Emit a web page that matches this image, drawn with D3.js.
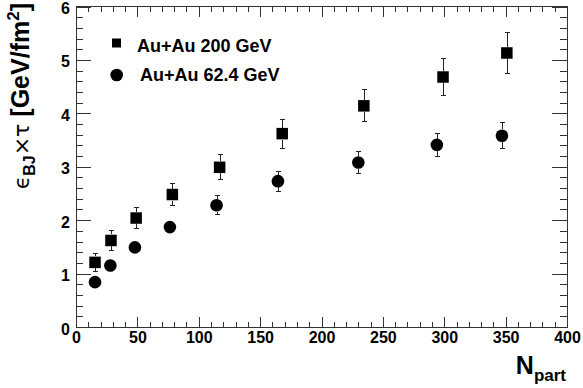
<!DOCTYPE html>
<html lang="en">
<head>
<meta charset="UTF-8" />
<title>Bjorken energy density vs Npart</title>
<script src="https://cdn.jsdelivr.net/npm/d3@7"></script>
<style>
body{margin:0;background:#fff}
svg{display:block;background:#fff;font-family:"Liberation Sans",Helvetica,Arial,sans-serif}
.axis path{display:none}
.axis line{stroke:#333;shape-rendering:crispEdges}
.axis text{font-size:16px;font-weight:bold;fill:#000;font-family:"Liberation Sans",Helvetica,Arial,sans-serif}
</style>
</head>
<body>
<svg id="chart" width="583" height="388"></svg>
<script>
/* ===== data ===== */
const npart200=[15.5,28.5,49,78.5,117,168,234.5,299,351];
const eps200  =[1.21,1.62,2.04,2.48,2.99,3.62,4.14,4.68,5.13];
const err200  =[0.165,0.18,0.19,0.2,0.23,0.27,0.30,0.34,0.375];
const npart62 =[15.5,28,48,76.5,114.5,164.5,230,294,347];
const eps62   =[0.84,1.15,1.49,1.87,2.28,2.73,3.08,3.41,3.58];
const err62   =[0.07,0.08,0.09,0.1,0.18,0.19,0.21,0.22,0.245];
const xMajor=[0,50,100,150,200,250,300,350,400];
const yMajor=[0,1,2,3,4,5,6];
const legendLabels=['Au+Au 200 GeV','Au+Au 62.4 GeV'];

const svg=d3.select('#chart');
const L=76,R=567,T=6.5,B=327;
const x=d3.scaleLinear().domain([0,400]).range([L,R]);
const y=d3.scaleLinear().domain([0,6]).range([B,T]);
const xMinor=d3.range(0,401,10).filter(v=>v%50);
const yMinor=d3.range(0,6.01,0.2).map(v=>+v.toFixed(1)).filter(v=>Math.abs(v-Math.round(v))>1e-6);

/* ===== axes: ticks on all four sides, pointing inward ===== */
const ax=(gen,tf)=>svg.append('g').attr('class','axis').attr('transform',tf).call(gen);
ax(d3.axisBottom(x).tickValues(xMajor).tickSizeInner(-10).tickSizeOuter(0).tickPadding(5).tickFormat(d3.format('d')),`translate(0,${B})`);
ax(d3.axisBottom(x).tickValues(xMinor).tickSizeInner(-5).tickSizeOuter(0).tickFormat(''),`translate(0,${B})`);
ax(d3.axisTop(x).tickValues(xMajor).tickSizeInner(-10).tickSizeOuter(0).tickFormat(''),`translate(0,${T})`);
ax(d3.axisTop(x).tickValues(xMinor).tickSizeInner(-5).tickSizeOuter(0).tickFormat(''),`translate(0,${T})`);
ax(d3.axisLeft(y).tickValues(yMajor).tickSizeInner(-14.7).tickSizeOuter(0).tickPadding(6).tickFormat(d3.format('d')),`translate(${L},0)`)
  .selectAll('text').attr('dy','0.44em');
ax(d3.axisLeft(y).tickValues(yMinor).tickSizeInner(-7.4).tickSizeOuter(0).tickFormat(''),`translate(${L},0)`);
ax(d3.axisRight(y).tickValues(yMajor).tickSizeInner(-14.7).tickSizeOuter(0).tickFormat(''),`translate(${R},0)`);
ax(d3.axisRight(y).tickValues(yMinor).tickSizeInner(-7.4).tickSizeOuter(0).tickFormat(''),`translate(${R},0)`);
svg.append('rect').attr('x',L).attr('y',T).attr('width',R-L).attr('height',B-T)
  .attr('fill','none').attr('stroke','#333').attr('shape-rendering','crispEdges');

/* ===== axis titles ===== */
const xt=svg.append('text').attr('x',566).attr('y',374).attr('text-anchor','end')
  .attr('font-weight','bold').attr('font-size',25);
xt.append('tspan').text('N');
xt.append('tspan').attr('font-size',17).attr('dy',7).text('part');

const yt=svg.append('text').attr('transform','translate(29,3) rotate(-90)').attr('text-anchor','end')
  .attr('font-size',25);
yt.append('tspan').attr('font-family','DejaVu Sans').attr('font-size',22).text('\u03F5');
yt.append('tspan').attr('font-weight','bold').attr('font-size',16).attr('dy',6).text('BJ');
yt.append('tspan').attr('dy',-6).attr('font-family','DejaVu Sans').attr('font-size',22).text('\u00D7\u03C4 ');
yt.append('tspan').attr('font-weight','bold').text('[GeV/fm');
yt.append('tspan').attr('font-weight','bold').attr('font-size',17).attr('dy',-10).text('2');
yt.append('tspan').attr('font-weight','bold').attr('dy',10).text(']');

/* ===== error bars + markers ===== */
function errBars(xs,ys,es,r){
  const g=svg.append('g').attr('stroke','#222').attr('stroke-width',1).attr('shape-rendering','crispEdges');
  xs.forEach((n,i)=>{
    const cx=Math.round(x(n))+0.5,cy=y(ys[i]),hi=y(ys[i]+es[i]),lo=y(ys[i]-es[i]);
    if(cy-hi<=r)return;
    g.append('line').attr('x1',cx).attr('x2',cx).attr('y1',hi).attr('y2',cy-r);
    g.append('line').attr('x1',cx).attr('x2',cx).attr('y1',cy+r).attr('y2',lo);
    g.append('line').attr('x1',cx-2.5).attr('x2',cx+2.5).attr('y1',hi).attr('y2',hi);
    g.append('line').attr('x1',cx-2.5).attr('x2',cx+2.5).attr('y1',lo).attr('y2',lo);
  });
}
errBars(npart200,eps200,err200,6);
errBars(npart62,eps62,err62,6.3);
const sq=11.5,cr=6.3;
svg.append('g').selectAll('rect').data(npart200).join('rect')
  .attr('x',(d)=>x(d)-sq/2).attr('y',(d,i)=>y(eps200[i])-sq/2)
  .attr('width',sq).attr('height',sq).attr('fill','#000');
svg.append('g').selectAll('circle').data(npart62).join('circle')
  .attr('cx',d=>x(d)).attr('cy',(d,i)=>y(eps62[i])).attr('r',cr).attr('fill','#000');

/* ===== legend ===== */
svg.append('rect').attr('x',116.5-4.5).attr('y',43-4.5).attr('width',9).attr('height',9).attr('fill','#000');
svg.append('circle').attr('cx',116.7).attr('cy',75).attr('r',6.3).attr('fill','#000');
svg.selectAll('.leg').data(legendLabels).join('text').attr('class','leg')
  .attr('x',(d,i)=>i?140:137).attr('y',(d,i)=>i?80.5:51.5)
  .attr('font-size',18).attr('font-weight','bold').text(d=>d);
</script>
</body>
</html>
